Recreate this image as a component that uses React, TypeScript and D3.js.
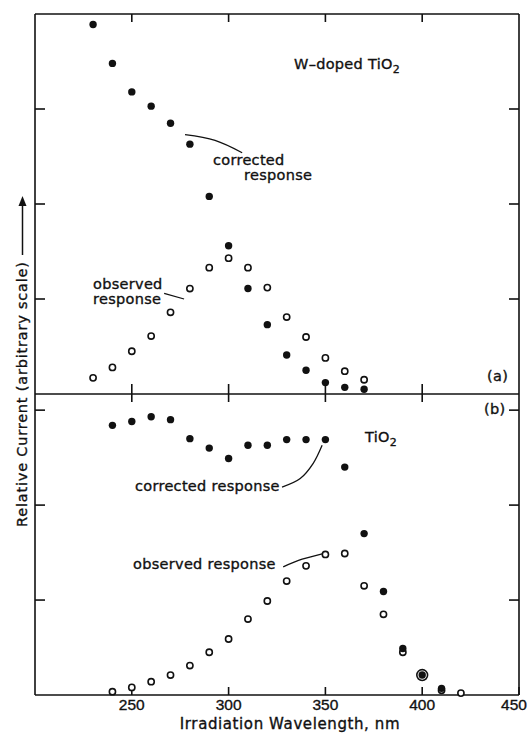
import React from 'react';
import * as d3 from 'd3';

// wavelengths (nm)
const topWl = [230, 240, 250, 260, 270, 280, 290, 300, 310, 320, 330, 340, 350, 360, 370];
const topCorrected = [3.89, 3.48, 3.18, 3.03, 2.85, 2.63, 2.08, 1.56, 1.11, 0.73, 0.41, 0.25, 0.12, 0.07, 0.05];
const topObserved = [0.17, 0.28, 0.45, 0.61, 0.86, 1.11, 1.33, 1.43, 1.33, 1.12, 0.81, 0.6, 0.38, 0.24, 0.15];

const botCorrWl = [240, 250, 260, 270, 280, 290, 300, 310, 320, 330, 340, 350, 360, 370, 380, 390, 400, 410];
const botCorrected = [2.84, 2.88, 2.93, 2.9, 2.7, 2.6, 2.49, 2.63, 2.63, 2.69, 2.69, 2.69, 2.4, 1.7, 1.09, 0.49, 0.21, 0.07];
const botObsWl = [240, 250, 260, 270, 280, 290, 300, 310, 320, 330, 340, 350, 360, 370, 380, 390, 400, 410, 420];
const botObserved = [0.035, 0.08, 0.14, 0.21, 0.31, 0.45, 0.59, 0.8, 0.99, 1.2, 1.36, 1.48, 1.49, 1.15, 0.85, 0.45, 0.21, 0.05, 0.02];

const xTicks = [250, 300, 350, 400, 450];
const topInnerXTicks = [250, 300, 350, 400];
const topYTicks = [1, 2, 3];
const botYTicks = [1, 2, 3];

// leader lines, in data units [nm, value]
const topCorrLeader: [number, number][] = [[277.5, 2.73], [293, 2.67], [307, 2.54]];
const topObsLeader: [number, number][] = [[266.7, 1.06], [277, 1.0]];
const botCorrLeader: [number, number][] = [[327.6, 2.19], [337, 2.28], [343.7, 2.44], [348.3, 2.63]];
const botObsLeader: [number, number][] = [[328.2, 1.35], [338, 1.43], [348.8, 1.49]];

const W = 528;
const H = 735;
const left = 35, right = 519;
const topY0 = 14, midY = 394, botY = 695;

const FONT = '"DejaVu Sans", sans-serif';

export default function App() {
  const x = d3.scaleLinear().domain([200, 450]).range([left, right]);
  const yTop = d3.scaleLinear().domain([0, 4]).range([midY, topY0]);
  const yBot = d3.scaleLinear().domain([0, 3.17]).range([botY, midY]);

  const leader = (sy: d3.ScaleLinear<number, number>) =>
    d3.line<[number, number]>().x(d => x(d[0])).y(d => sy(d[1])).curve(d3.curveCatmullRom);

  const ax = { stroke: '#111', strokeWidth: 1.6, fill: 'none' };
  const txt = { fontFamily: FONT, fill: '#111', stroke: '#111', strokeWidth: 0.35, fontSize: 14.5, letterSpacing: 0.3 };

  const filled = (wl: number[], vals: number[], sy: d3.ScaleLinear<number, number>, key: string) =>
    wl.map((w, i) => <circle key={key + i} cx={x(w)} cy={sy(vals[i])} r={3.7} fill="#111" />);

  const open = (wl: number[], vals: number[], sy: d3.ScaleLinear<number, number>, key: string,
    other?: { wl: number[]; vals: number[] }) =>
    wl.map((w, i) => {
      let r = 3.1;
      if (other) {
        const j = other.wl.indexOf(w);
        if (j >= 0 && Math.abs(other.vals[j] - vals[i]) < 0.02) r = 5.4;
      }
      return <circle key={key + i} cx={x(w)} cy={sy(vals[i])} r={r} fill={r > 4 ? 'none' : '#fff'} stroke="#111" strokeWidth={1.6} />;
    });

  return (
    <svg width={W} height={H} style={{ position: 'absolute', left: 0, top: 0, background: '#fff' }}>
      {/* frame */}
      <line x1={left} x2={right} y1={topY0} y2={topY0} {...ax} />
      <line x1={left} x2={right} y1={midY} y2={midY} {...ax} />
      <line x1={left} x2={right} y1={botY} y2={botY} {...ax} />
      <line x1={left} x2={left} y1={topY0} y2={botY} {...ax} />
      <line x1={right} x2={right} y1={topY0} y2={botY} {...ax} />

      {/* x ticks */}
      {topInnerXTicks.map(t => <line key={'tt' + t} x1={x(t)} x2={x(t)} y1={topY0} y2={topY0 + 8} {...ax} />)}
      {topInnerXTicks.map(t => <line key={'mt' + t} x1={x(t)} x2={x(t)} y1={midY - 10} y2={midY + 8} {...ax} />)}
      {xTicks.map(t => <line key={'bt' + t} x1={x(t)} x2={x(t)} y1={botY - 8} y2={botY} {...ax} />)}
      {xTicks.map(t => (
        <text key={'bl' + t} x={Math.min(x(t), W - 14)} y={710} textAnchor="middle"
          style={{ ...txt, fontFamily: '"Liberation Sans", sans-serif', fontSize: 15.5, letterSpacing: 0 }}>{t}</text>
      ))}

      {/* y ticks */}
      {topYTicks.map(t => (
        <g key={'ty' + t}>
          <line x1={left} x2={left + 10} y1={yTop(t)} y2={yTop(t)} {...ax} />
          <line x1={right - 10} x2={right} y1={yTop(t)} y2={yTop(t)} {...ax} />
        </g>
      ))}
      {botYTicks.map(t => (
        <g key={'by' + t}>
          <line x1={left} x2={left + 10} y1={yBot(t)} y2={yBot(t)} {...ax} />
          <line x1={right - 10} x2={right} y1={yBot(t)} y2={yBot(t)} {...ax} />
        </g>
      ))}

      {/* panel (a) */}
      {open(topWl, topObserved, yTop, 'to')}
      {filled(topWl, topCorrected, yTop, 'tc')}
      <path d={leader(yTop)(topCorrLeader) || ''} {...ax} strokeWidth={1.3} />
      <path d={leader(yTop)(topObsLeader) || ''} {...ax} strokeWidth={1.3} />
      <text x={294} y={69} style={txt}>W–doped TiO<tspan dy={4} fontSize={11}>2</tspan></text>
      <text x={213} y={165} style={txt}>corrected</text>
      <text x={244} y={180} style={txt}>response</text>
      <text x={93} y={289} style={txt}>observed</text>
      <text x={93} y={304} style={txt}>response</text>
      <text x={487} y={381} style={txt}>(a)</text>

      {/* panel (b) */}
      {open(botObsWl, botObserved, yBot, 'bo', { wl: botCorrWl, vals: botCorrected })}
      {filled(botCorrWl, botCorrected, yBot, 'bc')}
      <path d={leader(yBot)(botCorrLeader) || ''} {...ax} strokeWidth={1.3} />
      <path d={leader(yBot)(botObsLeader) || ''} {...ax} strokeWidth={1.3} />
      <text x={484} y={414} style={txt}>(b)</text>
      <text x={365} y={442} style={txt}>TiO<tspan dy={4} fontSize={11}>2</tspan></text>
      <text x={135} y={491} style={txt}>corrected response</text>
      <text x={133} y={569} style={txt}>observed response</text>

      {/* axis titles */}
      <text x={290} y={729} textAnchor="middle" style={{ ...txt, fontSize: 15, letterSpacing: 0.6 }}>Irradiation Wavelength, nm</text>
      <g transform="translate(20,527) rotate(-90)">
        <text x={0} y={7} style={{ ...txt, fontSize: 14.5, letterSpacing: 0.8 }}>Relative Current (arbitrary scale)</text>
        <line x1={272} x2={324} y1={2.5} y2={2.5} {...ax} strokeWidth={1.5} />
        <path d="M 331 2.5 L 321 -1.5 L 321 6.5 Z" fill="#111" />
      </g>
    </svg>
  );
}
